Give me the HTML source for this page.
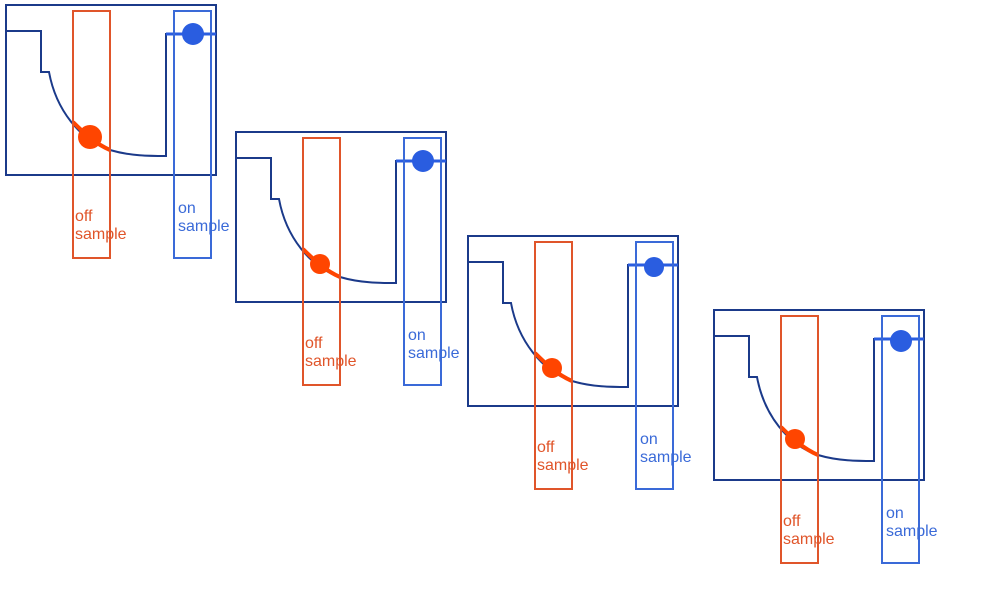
<!DOCTYPE html>
<html><head><style>body{margin:0;background:#fff}svg{display:block}text{font-family:"Liberation Sans",sans-serif;font-size:16px}</style></head><body>
<svg width="1000" height="600" viewBox="0 0 1000 600">
<defs>
<g id="p">
<rect x="6" y="5" width="210" height="170" fill="none" stroke="#1b3a8a" stroke-width="2"/>
<path d="M6,31 H41 V72 H49 C56,110 80,140 110,150 C130,156 150,156 166,156 V34 H216" fill="none" stroke="#1b3a8a" stroke-width="2"/>
<path d="M73,122 C85,134 96,144 110,150" fill="none" stroke="#ff4500" stroke-width="4"/>
<line x1="166" y1="34" x2="216" y2="34" stroke="#2a5de0" stroke-width="3"/>
<rect x="73" y="11" width="37" height="247" fill="none" stroke="#e0552a" stroke-width="2"/>
<rect x="174" y="11" width="37" height="247" fill="none" stroke="#3a6ad8" stroke-width="2"/>
<text x="75" y="221" fill="#e0552a">off</text>
<text x="75" y="239" fill="#e0552a">sample</text>
<text x="178" y="213" fill="#3a6ad8">on</text>
<text x="178" y="231" fill="#3a6ad8">sample</text>
</g>
</defs>
<use href="#p"/>
<circle cx="90" cy="137" r="12" fill="#ff4500"/><circle cx="193" cy="34" r="11" fill="#2a5de0"/>
<g transform="translate(230,127)"><use href="#p"/><circle cx="90" cy="137" r="10" fill="#ff4500"/><circle cx="193" cy="34" r="11" fill="#2a5de0"/></g>
<g transform="translate(462,231)"><use href="#p"/><circle cx="90" cy="137" r="10" fill="#ff4500"/><circle cx="192" cy="36" r="10" fill="#2a5de0"/></g>
<g transform="translate(708,305)"><use href="#p"/><circle cx="87" cy="134" r="10" fill="#ff4500"/><circle cx="193" cy="36" r="11" fill="#2a5de0"/></g>
</svg>
</body></html>
